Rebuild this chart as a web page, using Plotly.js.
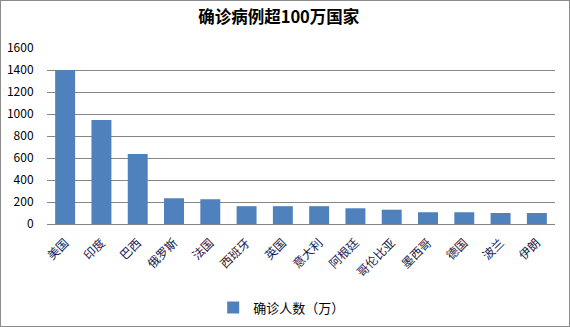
<!DOCTYPE html>
<html>
<head>
<meta charset="utf-8">
<script src="https://cdn.plot.ly/plotly-3.0.1.min.js"></script>
<style>
html,body{margin:0;padding:0;background:#fff;}
#chart{width:568px;height:325px;border:1px solid #8c8c8c;}
</style>
</head>
<body>
<div id="chart"></div>
<script>
const categories = ["美国","印度","巴西","俄罗斯","法国","西班牙","英国","意大利","阿根廷","哥伦比亚","墨西哥","德国","波兰","伊朗"];
const values = [1400, 945, 636, 234, 225, 162, 162, 162, 143, 130, 107, 107, 100, 100];
const seriesName = "确诊人数（万）";
const yTicks = [0, 200, 400, 600, 800, 1000, 1200, 1400, 1600];
const chartTitle = "确诊病例超100万国家";

const font = "Microsoft YaHei, 'Noto Sans CJK SC', sans-serif";

Plotly.newPlot("chart", [{
  type: "bar",
  x: categories,
  y: values,
  name: seriesName,
  marker: {color: "#4f81bd"},
  showlegend: true
}], {
  width: 568, height: 325,
  margin: {l: 46, r: 14, t: 47, b: 102, autoexpand: false},
  paper_bgcolor: "#fff", plot_bgcolor: "#fff",
  bargap: 0.45,
  title: {text: "<b>" + chartTitle + "</b>", font: {family: font, size: 16.5, color: "#000"}, x: 0.489, xanchor: "center", y: 0.95, yanchor: "middle"},
  xaxis: {
    tickangle: -45, tickfont: {family: font, size: 12, color: "#1a1a4a"},
    showline: true, linecolor: "#868686", linewidth: 1,
    ticks: "outside", ticklen: 6, tickcolor: "rgba(0,0,0,0)",
    showgrid: false, fixedrange: true, automargin: false
  },
  yaxis: {
    range: [0, 1600], tickvals: yTicks, ticktext: yTicks.map(String),
    tickfont: {family: font, size: 12, color: "#000"},
    showgrid: true, gridcolor: "#868686", gridwidth: 1,
    zeroline: true, zerolinecolor: "#868686", zerolinewidth: 1,
    showline: false, ticks: "outside", ticklen: 10, tickcolor: "rgba(0,0,0,0)", fixedrange: true, automargin: false
  },
  legend: {orientation: "h", x: 0.462, xanchor: "center", y: -0.475, yanchor: "middle",
    font: {family: font, size: 13, color: "#000"}}
}, {displayModeBar: false, staticPlot: true});
</script>
</body>
</html>
